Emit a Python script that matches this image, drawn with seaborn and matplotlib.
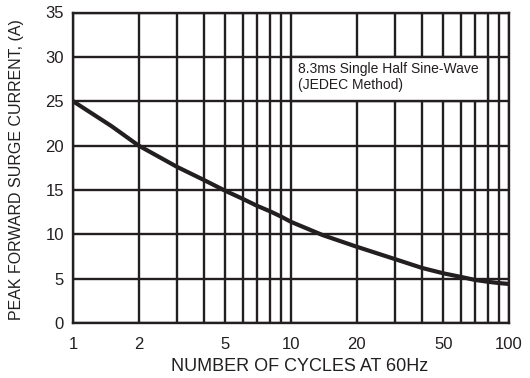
import matplotlib
matplotlib.use("Agg")
import matplotlib.pyplot as plt
from matplotlib.patches import Rectangle
import pandas as pd
import seaborn as sns

# Surge rating curve: peak forward surge current vs. number of 60 Hz cycles
cycles = [1, 1.5, 2, 3, 4, 5, 6, 7, 8, 9, 10, 14, 20, 30, 40, 50, 60, 70, 80, 90, 100]
surge_current = [25, 22.2, 20, 17.6, 16.1, 14.9, 14.0, 13.2, 12.6, 12.0, 11.4,
                 9.9, 8.6, 7.2, 6.2, 5.6, 5.2, 4.85, 4.65, 4.5, 4.4]

x_ticks = [1, 2, 5, 10, 20, 50, 100]
x_tick_labels = ["1", "2", "5", "10", "20", "50", "100"]
y_ticks = [0, 5, 10, 15, 20, 25, 30, 35]
x_grid = [1, 2, 3, 4, 5, 6, 7, 8, 9, 10, 20, 30, 40, 50, 60, 70, 80, 90, 100]

note_text = "8.3ms Single Half Sine-Wave\n(JEDEC Method)"
x_title = "NUMBER OF CYCLES AT 60Hz"
y_title = "PEAK FORWARD SURGE CURRENT, (A)"

ink = "#231f20"
W, H = 530, 378

sns.set_theme(style="white")
plt.rcParams["font.family"] = ["Liberation Sans", "DejaVu Sans"]

fig = plt.figure(figsize=(W / 100, H / 100), dpi=100)
ax = fig.add_axes([73 / W, 1 - 323 / H, (509 - 73) / W, (323 - 12.5) / H])

df = pd.DataFrame({"cycles": cycles, "current": surge_current})

ax.set_xscale("log")
ax.set_xlim(1, 100)
ax.set_ylim(0, 35)

# heavy grid at every decade subdivision and every 5 A
for gx in x_grid:
    ax.axvline(gx, color=ink, lw=1.7, zorder=1)
for gy in y_ticks:
    ax.axhline(gy, color=ink, lw=1.7, zorder=1)

# note box fills the cell spanning 10..80 cycles, 25..30 A
ax.add_patch(Rectangle((10, 25), 70, 5, facecolor="white", edgecolor=ink,
                       lw=1.7, zorder=2))
ax.text(10.75, 27.7, note_text, fontsize=10, color=ink, va="center",
        ha="left", linespacing=1.15, zorder=3)

sns.lineplot(data=df, x="cycles", y="current", ax=ax, color=ink, lw=3.0,
             zorder=4, legend=False)

ax.set_xticks(x_ticks)
ax.set_xticklabels(x_tick_labels)
ax.set_xticks([], minor=True)
ax.set_yticks(y_ticks)
ax.tick_params(axis="both", which="both", length=0, labelsize=12,
               labelcolor=ink)
ax.tick_params(axis="x", pad=10)
ax.tick_params(axis="y", pad=6.5)
ax.set_xlabel("")
ax.set_ylabel("")

fig.text(300 / W, 1 - 371 / H, x_title, fontsize=13, color=ink,
         ha="center", va="baseline")
fig.text(16.5 / W, 1 - 170 / H, y_title, fontsize=11.5, color=ink,
         ha="center", va="center", rotation=90)

for sp in ax.spines.values():
    sp.set_color(ink)
    sp.set_linewidth(1.7)
    sp.set_visible(True)

fig.savefig("out.png", dpi=100, facecolor="white")
